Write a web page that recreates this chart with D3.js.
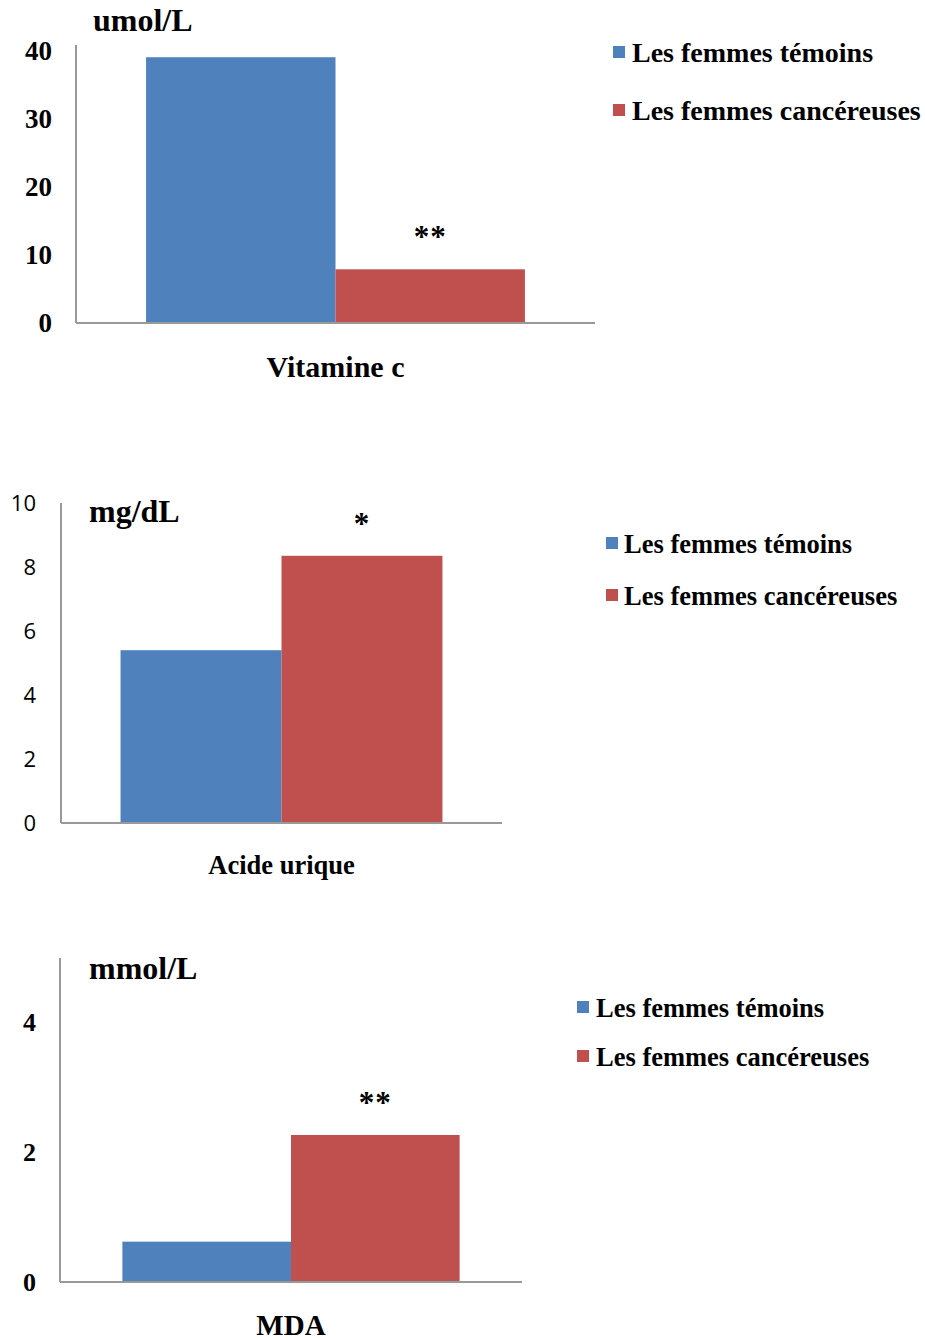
<!DOCTYPE html>
<html>
<head>
<meta charset="utf-8">
<script src="https://cdn.jsdelivr.net/npm/d3@7"></script>
<style>
  html, body { margin: 0; padding: 0; background: #fff; }
  svg { display: block; }
</style>
</head>
<body>
<svg id="chart" width="925" height="1340"></svg>
<script>
// Series shared by the three panels
const seriesNames = ["Les femmes témoins", "Les femmes cancéreuses"];
const seriesColors = ["#4F81BD", "#C0504D"];

// Vitamine C (umol/L)
const vitCCategory = ["Vitamine c"];
const vitCValues = [39.1, 7.9];
const vitCTicks = [0, 10, 20, 30, 40];
const vitCSignif = "**";

// Acide urique (mg/dL)
const acideCategory = ["Acide urique"];
const acideValues = [5.4, 8.35];
const acideTicks = [0, 2, 4, 6, 8, 10];
const acideSignif = "*";

// MDA (mmol/L)
const mdaCategory = ["MDA"];
const mdaValues = [0.62, 2.26];
const mdaTicks = [0, 2, 4];
const mdaSignif = "**";

const serif = "'Liberation Serif', 'Times New Roman', serif";
const sans = "'Open Sans', 'Noto Sans', sans-serif";

const svg = d3.select("#chart");

// Panel layout: plot box, axis extent, label styles and legend placement
const panels = [
  {
    category: vitCCategory, values: vitCValues, ticks: vitCTicks, signif: vitCSignif,
    unit: "umol/L", yMax: 40.9,
    left: 76, right: 595, top: 45, bottom: 323,
    tickFont: serif, tickWeight: "bold", tickSize: 27, tickX: 52,
    unitX: 93, unitY: 31, unitSize: 32,
    catY: 377, catSize: 30,
    legendX: 613, legendY: 46, legendGap: 58, legendSize: 28, legendSq: 12, legendTextDx: 19
  },
  {
    category: acideCategory, values: acideValues, ticks: acideTicks, signif: acideSignif,
    unit: "mg/dL", yMax: 10,
    left: 61, right: 502, top: 503, bottom: 823,
    tickFont: sans, tickWeight: "normal", tickSize: 22, tickX: 36,
    unitX: 89, unitY: 522, unitSize: 32,
    catY: 874, catSize: 26.5,
    legendX: 606, legendY: 537, legendGap: 52, legendSize: 26.5, legendSq: 12, legendTextDx: 18
  },
  {
    category: mdaCategory, values: mdaValues, ticks: mdaTicks, signif: mdaSignif,
    unit: "mmol/L", yMax: 4.98,
    left: 60, right: 522, top: 958, bottom: 1282,
    tickFont: serif, tickWeight: "bold", tickSize: 26, tickX: 36,
    unitX: 89, unitY: 979, unitSize: 32,
    catY: 1335, catSize: 29,
    legendX: 577, legendY: 1001, legendGap: 49, legendSize: 26.5, legendSq: 12, legendTextDx: 19
  }
];

panels.forEach(p => {
  const g = svg.append("g");

  const y = d3.scaleLinear().domain([0, p.yMax]).range([p.bottom, p.top]);
  const x0 = d3.scaleBand().domain(p.category).range([p.left, p.right])
    .paddingInner(0).paddingOuter(0.185);
  const x1 = d3.scaleBand().domain(seriesNames).range([0, x0.bandwidth()]).padding(0);

  // bars
  const grp = g.append("g").selectAll("g").data(p.category).join("g")
    .attr("transform", d => `translate(${x0(d)},0)`);
  grp.selectAll("rect")
    .data(seriesNames.map((s, i) => ({ s, v: p.values[i], c: seriesColors[i] })))
    .join("rect")
    .attr("x", d => x1(d.s))
    .attr("width", x1.bandwidth())
    .attr("y", d => y(d.v))
    .attr("height", d => y(0) - y(d.v))
    .attr("fill", d => d.c);

  // significance mark above the second bar
  const redVal = p.values[1];
  g.append("text")
    .attr("x", x0(p.category[0]) + x1(seriesNames[1]) + x1.bandwidth() / 2)
    .attr("y", y(redVal) - 22)
    .attr("text-anchor", "middle")
    .attr("font-family", serif)
    .attr("font-weight", "bold")
    .attr("font-size", 31)
    .attr("letter-spacing", 1)
    .text(p.signif);

  // y axis (no tick marks, labels only)
  const yAxis = d3.axisLeft(y).tickValues(p.ticks).tickSize(0).tickPadding(0)
    .tickFormat(d3.format("d"));
  const ya = g.append("g").attr("transform", `translate(${p.tickX},0)`).call(yAxis);
  ya.select(".domain").remove();
  ya.selectAll("text")
    .attr("font-family", p.tickFont)
    .attr("font-weight", p.tickWeight)
    .attr("font-size", p.tickSize)
    .attr("fill", "#000");

  // axis lines
  g.append("line")
    .attr("x1", p.left).attr("x2", p.left)
    .attr("y1", p.top).attr("y2", p.bottom)
    .attr("stroke", "#999").attr("stroke-width", 2);
  g.append("line")
    .attr("x1", p.left).attr("x2", p.right)
    .attr("y1", p.bottom).attr("y2", p.bottom)
    .attr("stroke", "#999").attr("stroke-width", 2);

  // category label
  g.append("text")
    .attr("x", x0(p.category[0]) + x0.bandwidth() / 2)
    .attr("y", p.catY)
    .attr("text-anchor", "middle")
    .attr("font-family", serif)
    .attr("font-weight", "bold")
    .attr("font-size", p.catSize)
    .text(p.category[0]);

  // unit label
  g.append("text")
    .attr("x", p.unitX)
    .attr("y", p.unitY)
    .attr("font-family", serif)
    .attr("font-weight", "bold")
    .attr("font-size", p.unitSize)
    .text(p.unit);

  // legend
  const lg = g.append("g").attr("transform", `translate(${p.legendX},${p.legendY})`);
  const items = lg.selectAll("g").data(seriesNames).join("g")
    .attr("transform", (d, i) => `translate(0,${i * p.legendGap})`);
  items.append("rect")
    .attr("width", p.legendSq).attr("height", p.legendSq)
    .attr("fill", (d, i) => seriesColors[i]);
  items.append("text")
    .attr("x", p.legendTextDx)
    .attr("y", p.legendSq + 4)
    .attr("font-family", serif)
    .attr("font-weight", "bold")
    .attr("font-size", p.legendSize)
    .text(d => d);
});
</script>
</body>
</html>
